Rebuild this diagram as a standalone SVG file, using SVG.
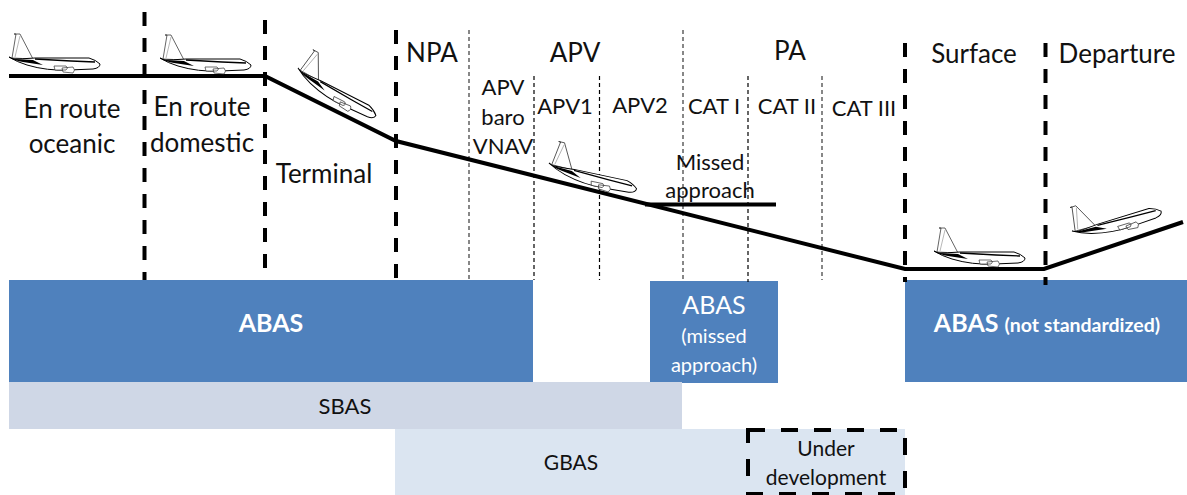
<svg xmlns="http://www.w3.org/2000/svg" width="1187" height="495" viewBox="0 0 1187 495">
<style>
text{font-family:Lato,"Liberation Sans",sans-serif;fill:#111;text-anchor:middle}
.l{font-size:26px}.m{font-size:22px}.s{font-size:21px}
.w{fill:#fff}.b{font-weight:700}
.thick{fill:none;stroke:#000;stroke-width:4}
.dash{fill:none;stroke:#000;stroke-width:4;stroke-dasharray:14 12}
.thin{fill:none;stroke:#000;stroke-width:1.2;stroke-dasharray:4 3}
.grey{fill:none;stroke:#555;stroke-width:1.4;stroke-dasharray:4 3}
.abas{fill:#4f81bd}
</style>
<defs>
<g id="plane">
<path d="M3 1 L7 -23 L5 -23 L11 -23 L24 2 Z" fill="#fff" stroke="#222" stroke-width=".7"/>
<path d="M6 0 L11 -21" fill="none" stroke="#888" stroke-width=".6"/>
<path d="M0 0 Q8 5 18 8 Q38 14 60 13 L84 12 Q91 11 91 7 Q87 3 80 1 L26 1 Q12 2 4 2 Z" fill="#fff" stroke="#000" stroke-width="1"/>
<path d="M0 0 Q6 4 14 5 L34 8 L24 3 L6 2 Z" fill="#000"/>
<path d="M26 2 L62 4 L86 5" fill="none" stroke="#000" stroke-width="1.3"/>
<path d="M45 9 L57 9 Q60 11 57 13 L46 13 Z M53 11 L64 10 Q67 13 64 16 L54 15 Z" fill="#fff" stroke="#333" stroke-width=".7"/>
</g>
</defs>
<g id="abas-left"><rect class="abas" x="9" y="280" width="524" height="102"/><text class="w b" x="271" y="332" style="font-size:25px">ABAS</text></g>
<g id="abas-missed"><rect class="abas" x="650" y="281" width="128" height="102"/><text class="w" x="714" y="314" style="font-size:25px">ABAS</text><text class="w" x="714" y="343" style="font-size:20px">(missed</text><text class="w" x="714" y="372" style="font-size:20px">approach)</text></g>
<g id="abas-right"><rect class="abas" x="905" y="280" width="282" height="102"/><text class="w b" x="1047" y="332" style="font-size:25px">ABAS <tspan style="font-size:19.5px">(not standardized)</tspan></text></g>
<g id="sbas"><rect x="9" y="382" width="673" height="47" fill="#cfd7e6"/><text class="m" x="345" y="414">SBAS</text></g>
<g id="gbas"><rect x="395" y="429" width="510" height="66" fill="#dbe5f1"/><text class="s" x="571" y="470">GBAS</text></g>
<g id="under-development"><rect x="748" y="430" width="157" height="64" fill="none" stroke="#000" stroke-width="4" stroke-dasharray="17 16"/><text class="s" x="826" y="456">Under</text><text class="s" x="826" y="485">development</text></g>
<g id="connectors">
<path class="dash" d="M144.500 12V280M265 20V280M396 30V280M905 43V282M1045.500 43V285"/>
<path class="grey" d="M469 30V281M683 30V282M822 76V280"/>
<path class="thin" d="M534 76V280M599.500 76V280M748 76V282"/>
<path class="thick" d="M9 76H265L396 141L905 269H1044L1183 222"/>
<path class="thick" d="M645 204.500H776"/>
</g>
<g id="plane-oceanic"><use href="#plane" transform="translate(9 57)"/></g>
<g id="plane-domestic"><use href="#plane" transform="translate(160 58)"/></g>
<g id="plane-terminal"><use href="#plane" transform="translate(298 68) rotate(27)"/></g>
<g id="plane-apv"><use href="#plane" transform="translate(549 163) rotate(12)"/></g>
<g id="plane-surface"><use href="#plane" transform="translate(934 251)"/></g>
<g id="plane-departure"><use href="#plane" transform="translate(1072 231) rotate(-17)"/></g>
<g id="labels">
<text class="l" x="72" y="118">En route</text><text class="l" x="72" y="153">oceanic</text>
<text class="l" x="202" y="116">En route</text><text class="l" x="202" y="152">domestic</text>
<text class="l" x="324" y="183">Terminal</text>
<text class="l" x="432" y="62">NPA</text><text class="l" x="575" y="62">APV</text><text class="l" x="790" y="60">PA</text>
<text class="l" x="974" y="63">Surface</text><text class="l" x="1117" y="63">Departure</text>
<text class="m" x="503" y="95">APV</text><text class="m" x="503" y="125">baro</text><text class="m" x="503" y="154">VNAV</text>
<text class="m" x="565" y="114">APV1</text><text class="m" x="640" y="113">APV2</text>
<text class="m" x="714" y="114">CAT I</text><text class="m" x="787" y="114">CAT II</text><text class="m" x="864" y="116">CAT III</text>
<text class="m" x="710" y="170">Missed</text><text class="m" x="710" y="198">approach</text>
</g>
</svg>
